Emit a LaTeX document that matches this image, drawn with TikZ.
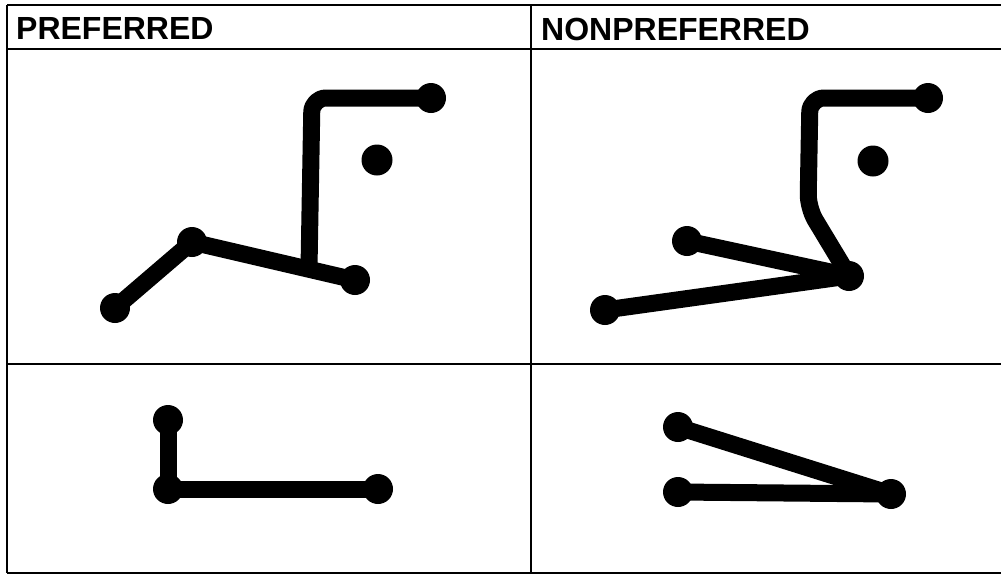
\documentclass[tikz,border=0pt]{standalone}
\usepackage{fontspec}
\setmainfont{Liberation Sans}
\begin{document}
\begin{tikzpicture}[x=1pt,y=-1pt,
  grid/.style={line width=2.5pt,black},
  head/.style={anchor=base west,inner sep=0pt,font=\fontsize{32}{36}\selectfont\bfseries},
  wire/.style={line width=17pt,black,line cap=round,line join=round},
  dot/.style={circle,fill=black,inner sep=0pt,minimum size=30pt},
  bigdot/.style={circle,fill=black,inner sep=0pt,minimum size=31pt}]
\fill[white] (0,0) rectangle (1001,576);
\useasboundingbox (0,0) rectangle (1001,576);
% table
\draw[grid] (7,5) -- (1001,5);
\draw[grid] (7,49) -- (1001,49);
\draw[grid] (7,364) -- (1001,364);
\draw[grid] (7,573) -- (1001,573);
\draw[grid] (7,5) -- (7,573);
\draw[grid] (531,5) -- (531,573);
\node[head] (h1) at (16,39) {PREFERRED};
\node[head] (h2) at (541,40) {NONPREFERRED};
% preferred top
\node[dot] (pa) at (115,308) {};
\node[dot] (pb) at (192,242) {};
\node[dot] (pc) at (355,280) {};
\node[dot] (pd) at (431,98) {};
\node[bigdot] (pe) at (377,160) {};
\coordinate (pj) at (309,268);
\coordinate (pk) at (312,98);
\draw[wire] (pa.center) -- (pb.center) -- (pc.center);
\draw[wire,rounded corners=14pt] (pj) -- (pk) -- (pd.center);
% nonpreferred top
\node[dot] (na) at (605,310) {};
\node[dot] (nb) at (687,241) {};
\node[dot] (nc) at (849,276) {};
\node[dot] (nd) at (928,98) {};
\node[bigdot] (ne) at (873,161) {};
\coordinate (nk) at (810,98);
\coordinate (nm) at (808,208);
\draw[wire] (na.center) -- (nc.center);
\draw[wire] (nb.center) -- (nc.center);
\draw[wire,rounded corners=14pt] (nc.center) -- (nm) -- (nk) -- (nd.center);
% preferred bottom
\node[dot] (qa) at (168,420) {};
\node[dot] (qb) at (168,489) {};
\node[dot] (qc) at (378,489) {};
\draw[wire] (qa.center) -- (qb.center) -- (qc.center);
% nonpreferred bottom
\node[dot] (ra) at (678,427) {};
\node[dot] (rb) at (678,492) {};
\node[dot] (rc) at (891,494) {};
\draw[wire] (ra.center) -- (rc.center);
\draw[wire] (rb.center) -- (rc.center);
\end{tikzpicture}
\end{document}
